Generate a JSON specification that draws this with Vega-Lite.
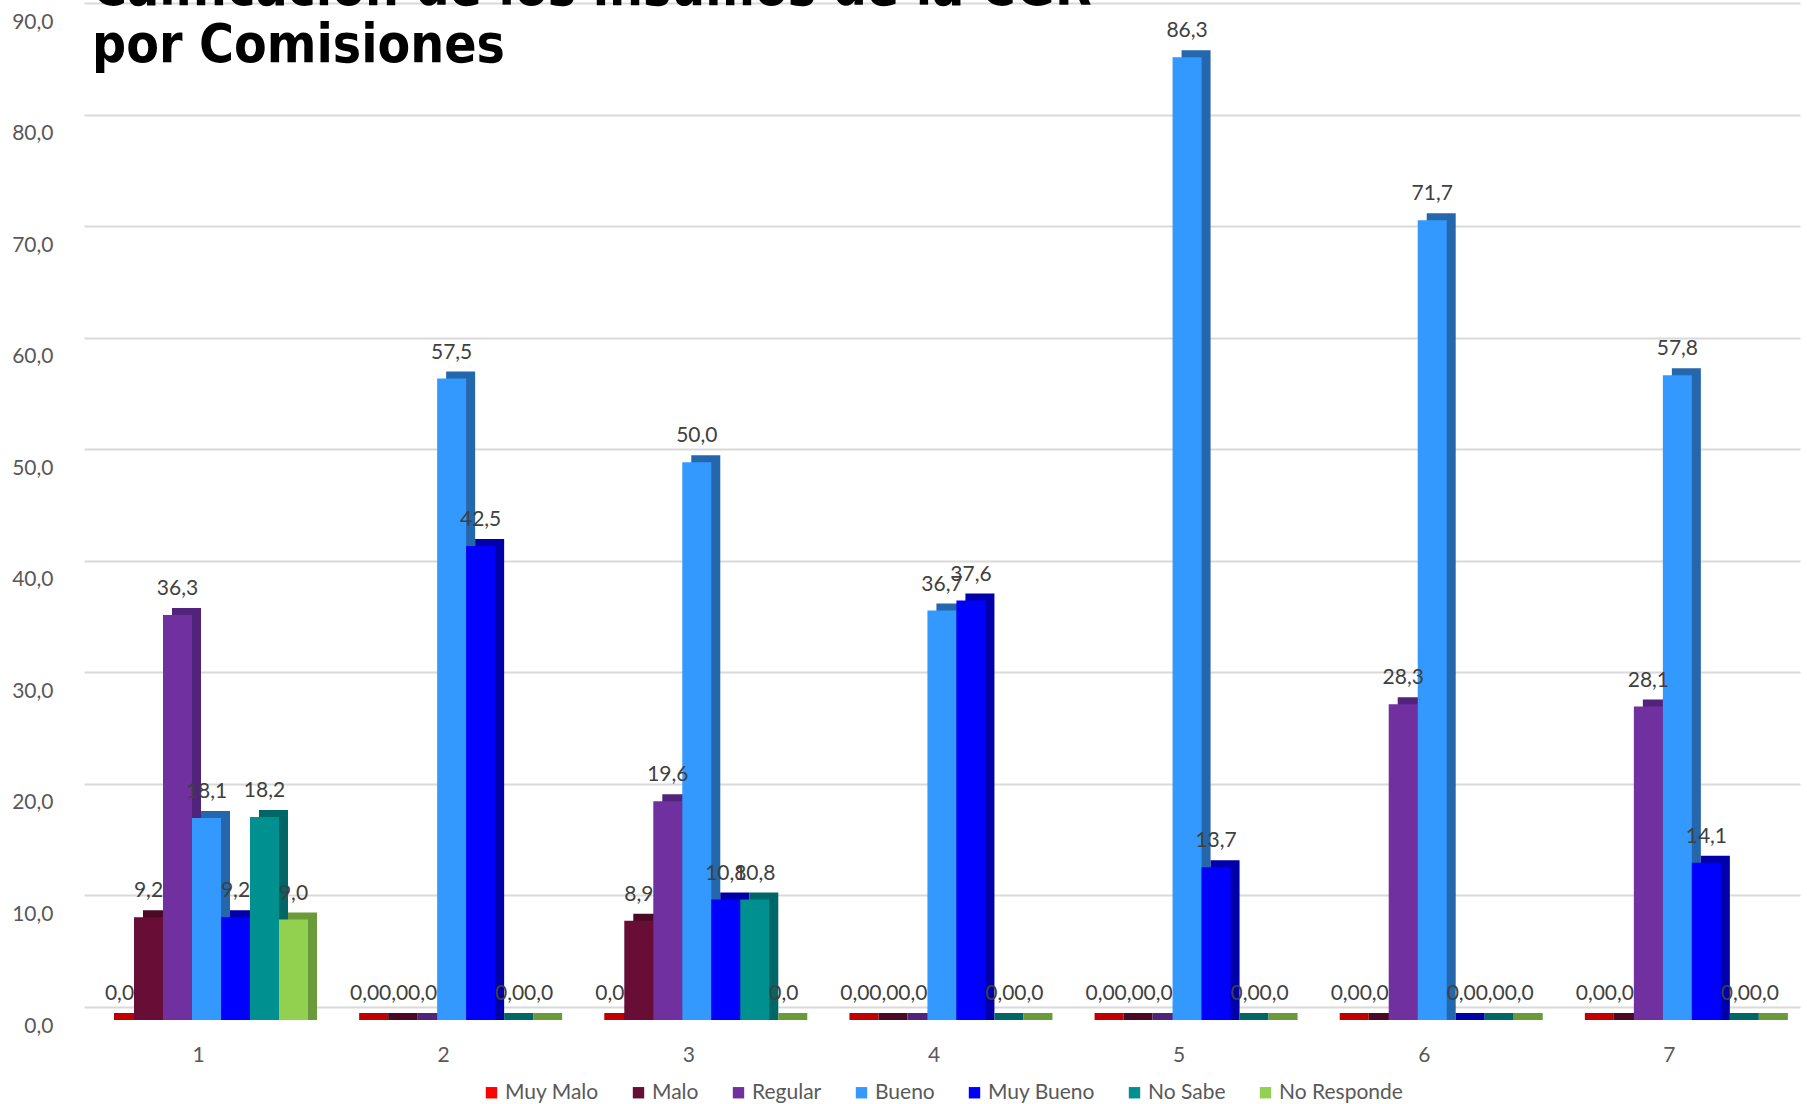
{
  "$schema": "https://vega.github.io/schema/vega-lite/v6.json",
  "width": 1716,
  "height": 1004,
  "autosize": {"type": "none"},
  "padding": {"left": 84, "top": 16, "right": 7, "bottom": 84},
  "background": "#ffffff",
  "title": {
    "text": ["Calificación de los insumos de la CGR", "por Comisiones"],
    "anchor": "start",
    "frame": "group",
    "orient": "top",
    "offset": 0,
    "baseline": "alphabetic",
    "font": "DejaVu Sans Condensed",
    "fontSize": 53,
    "fontWeight": "bold",
    "color": "#000000",
    "lineHeight": 57,
    "dx": 8,
    "dy": 104
  },
  "data": {
    "values": [
      {"comision": "1", "serie": "Muy Malo", "valor": 0.0},
      {"comision": "1", "serie": "Malo", "valor": 9.2},
      {"comision": "1", "serie": "Regular", "valor": 36.3},
      {"comision": "1", "serie": "Bueno", "valor": 18.1},
      {"comision": "1", "serie": "Muy Bueno", "valor": 9.2},
      {"comision": "1", "serie": "No Sabe", "valor": 18.2},
      {"comision": "1", "serie": "No Responde", "valor": 9.0},
      {"comision": "2", "serie": "Muy Malo", "valor": 0.0},
      {"comision": "2", "serie": "Malo", "valor": 0.0},
      {"comision": "2", "serie": "Regular", "valor": 0.0},
      {"comision": "2", "serie": "Bueno", "valor": 57.5},
      {"comision": "2", "serie": "Muy Bueno", "valor": 42.5},
      {"comision": "2", "serie": "No Sabe", "valor": 0.0},
      {"comision": "2", "serie": "No Responde", "valor": 0.0},
      {"comision": "3", "serie": "Muy Malo", "valor": 0.0},
      {"comision": "3", "serie": "Malo", "valor": 8.9},
      {"comision": "3", "serie": "Regular", "valor": 19.6},
      {"comision": "3", "serie": "Bueno", "valor": 50.0},
      {"comision": "3", "serie": "Muy Bueno", "valor": 10.8},
      {"comision": "3", "serie": "No Sabe", "valor": 10.8},
      {"comision": "3", "serie": "No Responde", "valor": 0.0},
      {"comision": "4", "serie": "Muy Malo", "valor": 0.0},
      {"comision": "4", "serie": "Malo", "valor": 0.0},
      {"comision": "4", "serie": "Regular", "valor": 0.0},
      {"comision": "4", "serie": "Bueno", "valor": 36.7},
      {"comision": "4", "serie": "Muy Bueno", "valor": 37.6},
      {"comision": "4", "serie": "No Sabe", "valor": 0.0},
      {"comision": "4", "serie": "No Responde", "valor": 0.0},
      {"comision": "5", "serie": "Muy Malo", "valor": 0.0},
      {"comision": "5", "serie": "Malo", "valor": 0.0},
      {"comision": "5", "serie": "Regular", "valor": 0.0},
      {"comision": "5", "serie": "Bueno", "valor": 86.3},
      {"comision": "5", "serie": "Muy Bueno", "valor": 13.7},
      {"comision": "5", "serie": "No Sabe", "valor": 0.0},
      {"comision": "5", "serie": "No Responde", "valor": 0.0},
      {"comision": "6", "serie": "Muy Malo", "valor": 0.0},
      {"comision": "6", "serie": "Malo", "valor": 0.0},
      {"comision": "6", "serie": "Regular", "valor": 28.3},
      {"comision": "6", "serie": "Bueno", "valor": 71.7},
      {"comision": "6", "serie": "Muy Bueno", "valor": 0.0},
      {"comision": "6", "serie": "No Sabe", "valor": 0.0},
      {"comision": "6", "serie": "No Responde", "valor": 0.0},
      {"comision": "7", "serie": "Muy Malo", "valor": 0.0},
      {"comision": "7", "serie": "Malo", "valor": 0.0},
      {"comision": "7", "serie": "Regular", "valor": 28.1},
      {"comision": "7", "serie": "Bueno", "valor": 57.8},
      {"comision": "7", "serie": "Muy Bueno", "valor": 14.1},
      {"comision": "7", "serie": "No Sabe", "valor": 0.0},
      {"comision": "7", "serie": "No Responde", "valor": 0.0}
    ]
  },
  "encoding": {
    "x": {
      "field": "comision",
      "type": "nominal",
      "sort": null,
      "scale": {"paddingInner": 0, "paddingOuter": 0},
      "axis": {
        "title": null,
        "labelAngle": 0,
        "domain": false,
        "ticks": false,
        "grid": false,
        "labelPadding": 24,
        "labelOffset": -8,
        "labelFont": "Lato",
        "labelFontSize": 21,
        "labelColor": "#595959"
      }
    },
    "y": {
      "field": "valor",
      "type": "quantitative",
      "scale": {"domain": [0, 90], "nice": false},
      "axis": {
        "title": null,
        "values": [0, 10, 20, 30, 40, 50, 60, 70, 80, 90],
        "format": ".1f",
        "grid": true,
        "gridColor": "#D9D9D9",
        "gridWidth": 2,
        "domain": false,
        "ticks": false,
        "tickOffset": -13,
        "labelOffset": 19,
        "labelPadding": 31,
        "labelOverlap": false,
        "labelFlush": false,
        "labelBound": false,
        "labelFont": "Lato",
        "labelFontSize": 21,
        "labelColor": "#595959"
      }
    }
  },
  "layer": [
    {
      "mark": {"type": "bar", "yOffset": -7},
      "encoding": {
        "y2": {"datum": 0},
        "xOffset": {
          "field": "serie",
          "type": "nominal",
          "scale": {
            "domain": ["Muy Malo", "Malo", "Regular", "Bueno", "Muy Bueno", "No Sabe", "No Responde"],
            "range": [30, 233],
            "paddingInner": 0,
            "paddingOuter": 0
          }
        },
        "color": {
          "field": "serie",
          "type": "nominal",
          "scale": {
            "domain": ["Muy Malo", "Malo", "Regular", "Bueno", "Muy Bueno", "No Sabe", "No Responde"],
            "range": ["#C00000", "#4A0A26", "#52237A", "#2567AD", "#0000AA", "#006666", "#6A9A3A"]
          },
          "legend": null
        }
      }
    },
    {
      "mark": {"type": "bar"},
      "encoding": {
        "xOffset": {
          "field": "serie",
          "type": "nominal",
          "scale": {
            "domain": ["Muy Malo", "Malo", "Regular", "Bueno", "Muy Bueno", "No Sabe", "No Responde"],
            "range": [21, 224],
            "paddingInner": 0,
            "paddingOuter": 0
          }
        },
        "color": {
          "field": "serie",
          "type": "nominal",
          "scale": {
            "domain": ["Muy Malo", "Malo", "Regular", "Bueno", "Muy Bueno", "No Sabe", "No Responde"],
            "range": ["#FF0000", "#680D35", "#7030A0", "#3399FF", "#0000FF", "#009090", "#92D050"]
          },
          "legend": {
            "orient": "bottom",
            "title": null,
            "direction": "horizontal",
            "symbolType": "square",
            "symbolSize": 130,
            "symbolStrokeWidth": 0,
            "labelFont": "Lato",
            "labelFontSize": 21,
            "labelColor": "#595959",
            "labelOffset": 3,
            "columnPadding": 29,
            "offset": 17,
            "padding": 0
          }
        }
      }
    },
    {
      "mark": {"type": "text", "baseline": "middle", "dy": -26, "font": "Lato", "fontSize": 21, "color": "#404040"},
      "encoding": {
        "xOffset": {
          "field": "serie",
          "type": "nominal",
          "scale": {
            "type": "point",
            "domain": ["Muy Malo", "Malo", "Regular", "Bueno", "Muy Bueno", "No Sabe", "No Responde"],
            "range": [35.5, 209.5],
            "padding": 0
          }
        },
        "text": {"field": "valor", "type": "quantitative", "format": ".1f"}
      }
    }
  ],
  "resolve": {"scale": {"xOffset": "independent", "color": "independent"}},
  "config": {
    "locale": {"number": {"decimal": ",", "thousands": ".", "grouping": [3], "currency": ["", " €"]}},
    "view": {"stroke": null},
    "legend": {"layout": {"bottom": {"anchor": "middle"}}}
  }
}
